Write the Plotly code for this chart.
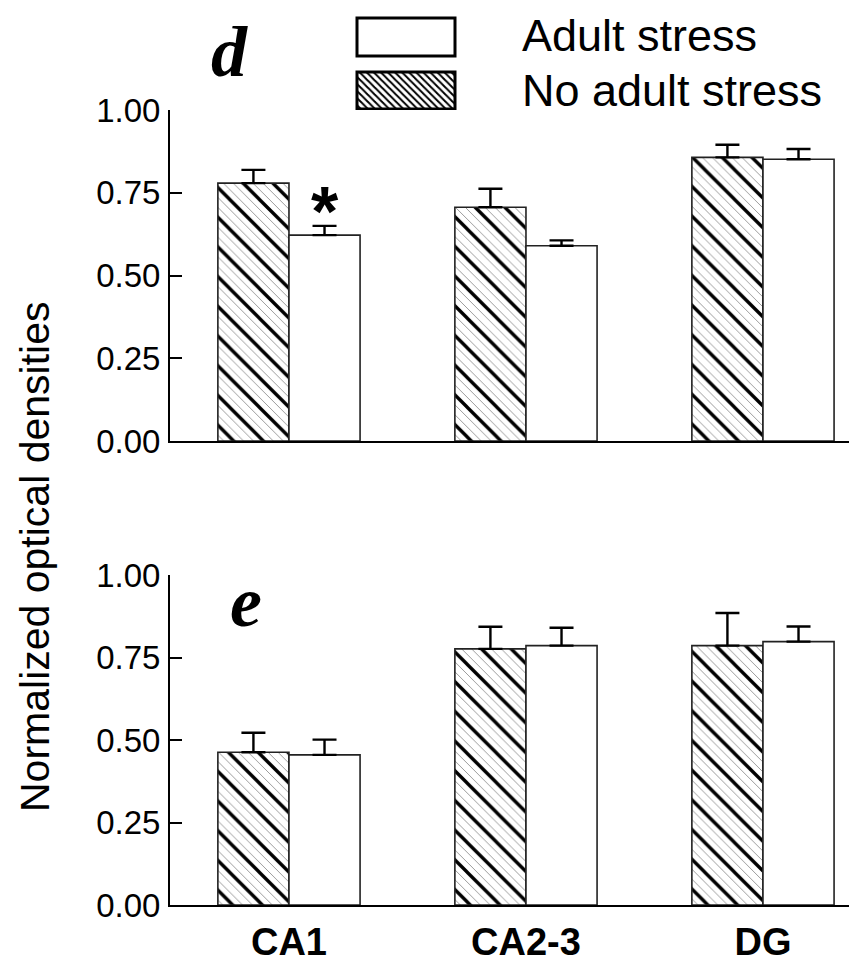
import plotly.graph_objects as go

categories = ["CA1", "CA2-3", "DG"]
tick_vals = [0.0, 0.25, 0.5, 0.75, 1.0]
tick_text = ["0.00", "0.25", "0.50", "0.75", "1.00"]

# panel d
d_no_stress = [0.779, 0.706, 0.857]
d_no_stress_err = [0.040, 0.056, 0.038]
d_adult_stress = [0.622, 0.590, 0.851]
d_adult_stress_err = [0.028, 0.016, 0.031]

# panel e
e_no_stress = [0.463, 0.776, 0.786]
e_no_stress_err = [0.059, 0.067, 0.099]
e_adult_stress = [0.455, 0.786, 0.798]
e_adult_stress_err = [0.046, 0.054, 0.046]

legend_labels = ["Adult stress", "No adult stress"]

FONT = "Liberation Sans"
SERIF = "Liberation Serif"
W, H = 849, 965
ML, MR, MT, MB = 170, 0, 10, 60
PH = H - MT - MB


def py(Y):
    return (H - MB - Y) / PH


def px(X):
    return (X - ML) / (W - ML - MR)


fig = go.Figure()

BW = 0.3
OUT = dict(color="#222", width=1.6)


def add_panel(xa, ya, no_vals, no_err, ad_vals, ad_err):
    # fine grey hatch background of the hatched bars
    fig.add_trace(go.Bar(
        x=categories, y=no_vals, offset=-BW, width=BW, xaxis=xa, yaxis=ya,
        marker=dict(color="white", line=dict(width=0),
                    pattern=dict(shape="\\", size=7, solidity=0.14,
                                 fgcolor="#9a9a9a", bgcolor="white", fillmode="replace")),
        showlegend=False, hoverinfo="skip"))
    # thick black hatch
    fig.add_trace(go.Bar(
        x=categories, y=no_vals, offset=-BW, width=BW, xaxis=xa, yaxis=ya,
        marker=dict(color="rgba(0,0,0,0)", line=OUT,
                    pattern=dict(shape="\\", size=21, solidity=0.16,
                                 fgcolor="black", bgcolor="rgba(0,0,0,0)", fillmode="replace")),
        error_y=dict(type="data", symmetric=False, array=no_err,
                     arrayminus=[0] * len(no_err), color="black", thickness=2.4, width=12),
        showlegend=False, name=legend_labels[1]))
    fig.add_trace(go.Bar(
        x=categories, y=ad_vals, offset=0, width=BW, xaxis=xa, yaxis=ya,
        marker=dict(color="white", line=OUT),
        error_y=dict(type="data", symmetric=False, array=ad_err,
                     arrayminus=[0] * len(ad_err), color="black", thickness=2.4, width=12),
        showlegend=False, name=legend_labels[0]))


add_panel("x", "y", d_no_stress, d_no_stress_err, d_adult_stress, d_adult_stress_err)
add_panel("x2", "y2", e_no_stress, e_no_stress_err, e_adult_stress, e_adult_stress_err)

# legend boxes (drawn on a helper axis in pixel-like units)
fig.add_trace(go.Bar(
    x=[406], y=[38], base=[18], width=[98], xaxis="x3", yaxis="y3",
    marker=dict(color="white", line=dict(color="black", width=3)),
    showlegend=False, hoverinfo="skip"))
fig.add_trace(go.Bar(
    x=[406], y=[37], base=[72], width=[98], xaxis="x3", yaxis="y3",
    marker=dict(color="white", line=dict(color="black", width=3),
                pattern=dict(shape="\\", size=5, solidity=0.4, fgcolor="black",
                             bgcolor="white", fillmode="replace")),
    showlegend=False, hoverinfo="skip"))

xr = [-0.502, 2.363]
axis_common = dict(showgrid=False, zeroline=False, showline=True, linecolor="black",
                   linewidth=2, automargin=False)

fig.update_layout(
    template="none",
    width=W, height=H,
    margin=dict(l=ML, r=MR, t=MT, b=MB, autoexpand=False),
    paper_bgcolor="white", plot_bgcolor="white",
    barmode="overlay",
    font=dict(family=FONT, color="black"),
    xaxis=dict(domain=[0, 1], anchor="y", range=xr, showticklabels=False, ticks="",
               type="category", **axis_common),
    yaxis=dict(domain=[py(441), py(110)], anchor="x", range=[0, 1], tickvals=tick_vals,
               ticktext=tick_text, ticks="inside", ticklen=12, tickwidth=2, tickcolor="black",
               tickfont=dict(size=33, family=FONT), ticklabelstandoff=1, **axis_common),
    xaxis2=dict(domain=[0, 1], anchor="y2", range=xr, ticks="", type="category",
                tickfont=dict(size=38, family=FONT, weight="bold"), ticklabelstandoff=2,
                **axis_common),
    yaxis2=dict(domain=[0, py(575)], anchor="x2", range=[0, 1], tickvals=tick_vals,
                ticktext=tick_text, ticks="inside", ticklen=12, tickwidth=2, tickcolor="black",
                tickfont=dict(size=33, family=FONT), ticklabelstandoff=1, **axis_common),
    xaxis3=dict(domain=[0, 1], anchor="y3", range=[ML, W - MR], visible=False, automargin=False),
    yaxis3=dict(domain=[py(110), 1], anchor="x3", range=[110, MT], visible=False, automargin=False),
)

annotations = [
    dict(text="Normalized optical densities", textangle=-90, x=px(35), y=py(557),
         xref="paper", yref="paper", xanchor="center", yanchor="middle", showarrow=False,
         font=dict(size=41, family=FONT)),
    dict(text="d", x=px(229), y=py(52), xref="paper", yref="paper", xanchor="center",
         yanchor="middle", showarrow=False,
         font=dict(size=72, family=SERIF, weight="bold", style="italic")),
    dict(text="e", x=px(246), y=py(602), xref="paper", yref="paper", xanchor="center",
         yanchor="middle", showarrow=False,
         font=dict(size=72, family=SERIF, weight="bold", style="italic")),
    dict(text=legend_labels[0], x=px(520), y=py(36), xref="paper", yref="paper",
         xanchor="left", yanchor="middle", showarrow=False, font=dict(size=45, family=FONT)),
    dict(text=legend_labels[1], x=px(520), y=py(90), xref="paper", yref="paper",
         xanchor="left", yanchor="middle", showarrow=False, font=dict(size=45, family=FONT)),
    dict(text="<b>*</b>", x=0.15, y=d_adult_stress[0] + d_adult_stress_err[0], xref="x",
         yref="y", xanchor="center", yanchor="bottom", yshift=-27, showarrow=False,
         font=dict(size=70, family=FONT)),
]
fig.update_layout(annotations=annotations)

fig.write_html("out.html", config={"displayModeBar": False},
               post_script="document.body.style.margin='0';")
